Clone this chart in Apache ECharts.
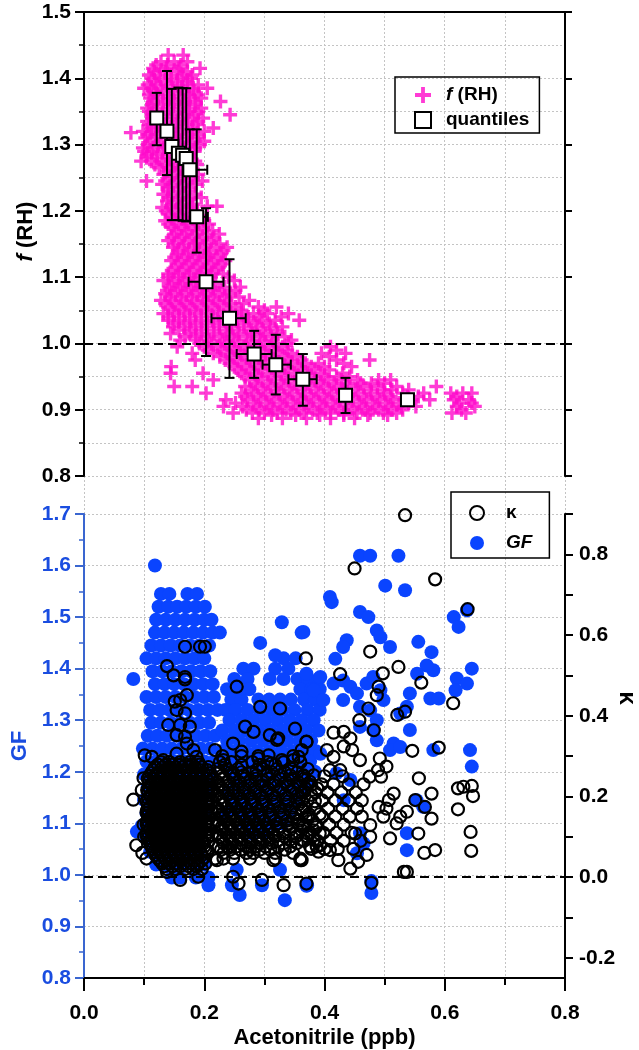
<!DOCTYPE html>
<html><head><meta charset="utf-8">
<script src="https://cdn.jsdelivr.net/npm/echarts@6/dist/echarts.min.js"></script>
<style>html,body{margin:0;padding:0;background:#fff;overflow:hidden}#c{width:639px;height:1050px}</style>
</head><body><div id="c"></div>
<script>
// ---------- DATA ----------
// f(RH) cloud, rows: [f(RH), acetonitrile values...]
const rhRows = [
[1.435,0.140,0.165],
[1.425,0.128,0.150,0.172],
[1.415,0.115,0.137,0.158,0.193],
[1.405,0.108,0.125,0.145,0.165,0.180],
[1.395,0.118,0.135,0.155,0.172],
[1.385,0.100,0.112,0.128,0.148,0.163,0.182,0.205],
[1.375,0.108,0.122,0.140,0.157,0.175,0.190],
[1.365,0.115,0.132,0.150,0.168,0.185,0.227],
[1.355,0.105,0.122,0.140,0.158,0.175,0.195],
[1.345,0.112,0.130,0.148,0.166,0.184,0.243],
[1.335,0.105,0.120,0.138,0.155,0.172,0.190],
[1.325,0.112,0.128,0.146,0.164,0.180,0.215],
[1.318,0.078],
[1.315,0.105,0.120,0.137,0.154,0.172,0.190],
[1.305,0.110,0.128,0.145,0.162,0.180,0.200],
[1.295,0.098,0.115,0.133,0.150,0.168,0.185],
[1.285,0.105,0.122,0.140,0.158,0.176],
[1.275,0.095,0.112,0.130,0.148,0.166,0.185],
[1.265,0.125,0.142,0.160,0.178],
[1.255,0.132,0.150,0.168,0.190],
[1.245,0.104,0.135,0.155,0.172,0.197],
[1.235,0.140,0.158,0.176],
[1.225,0.132,0.148,0.165,0.185],
[1.215,0.138,0.155,0.172],
[1.207,0.205,0.221],
[1.205,0.130,0.145,0.162,0.180],
[1.195,0.140,0.158,0.175],
[1.185,0.135,0.150,0.168,0.185,0.200],
[1.175,0.145,0.162,0.180,0.198],
[1.165,0.150,0.168,0.186,0.205,0.225],
[1.155,0.140,0.158,0.175,0.192,0.212],
[1.145,0.148,0.165,0.183,0.200,0.220,0.238],
[1.135,0.155,0.172,0.190,0.208,0.228],
[1.125,0.145,0.162,0.180,0.198,0.216,0.235],
[1.115,0.152,0.170,0.188,0.206,0.224],
[1.105,0.140,0.158,0.176,0.195,0.213,0.232],
[1.095,0.132,0.150,0.168,0.186,0.205,0.250],
[1.085,0.142,0.160,0.178,0.196,0.215,0.234,0.260],
[1.075,0.135,0.152,0.170,0.188,0.206,0.225,0.244],
[1.065,0.128,0.145,0.163,0.181,0.199,0.218,0.237,0.275],
[1.055,0.140,0.158,0.176,0.195,0.213,0.232,0.252,0.290,0.320],
[1.045,0.132,0.150,0.168,0.186,0.205,0.224,0.243,0.262,0.282,0.305,0.340],
[1.035,0.140,0.158,0.176,0.195,0.214,0.234,0.254,0.274,0.296,0.318,0.358],
[1.025,0.148,0.166,0.185,0.205,0.225,0.246,0.266,0.288,0.310,0.330],
[1.015,0.144,0.175,0.195,0.216,0.238,0.258,0.280,0.302,0.322],
[1.005,0.160,0.186,0.208,0.230,0.250,0.272,0.294,0.314,0.345],
[0.995,0.155,0.200,0.222,0.244,0.266,0.288,0.308,0.330,0.410],
[0.985,0.180,0.215,0.238,0.260,0.282,0.302,0.324,0.346,0.395,0.435],
[0.975,0.185,0.235,0.255,0.276,0.296,0.318,0.340,0.362,0.420,0.475],
[0.965,0.145,0.250,0.270,0.290,0.312,0.334,0.356,0.378,0.400,0.445],
[0.955,0.144,0.198,0.262,0.284,0.306,0.328,0.350,0.372,0.394,0.430],
[0.945,0.215,0.275,0.296,0.318,0.340,0.362,0.384,0.406,0.428,0.455,0.490,0.510],
[0.935,0.150,0.180,0.268,0.288,0.310,0.332,0.354,0.376,0.398,0.420,0.442,0.465,0.488,0.520,0.586],
[0.925,0.203,0.262,0.282,0.302,0.324,0.346,0.368,0.390,0.412,0.434,0.456,0.478,0.500,0.530,0.565,0.610,0.630,0.645],
[0.915,0.236,0.272,0.294,0.316,0.338,0.360,0.382,0.404,0.426,0.448,0.470,0.492,0.514,0.545,0.575,0.615,0.640],
[0.905,0.232,0.264,0.286,0.308,0.330,0.352,0.374,0.396,0.418,0.440,0.462,0.484,0.506,0.528,0.552,0.620,0.650],
[0.895,0.248,0.280,0.300,0.322,0.344,0.366,0.388,0.410,0.432,0.454,0.476,0.498,0.520,0.612,0.635],
[0.887,0.290,0.330,0.370,0.410,0.450]
];
// denser interior of the f(RH) cloud
const rhRowsInner = [
[1.420,0.120,0.139,0.161],
[1.410,0.117,0.135,0.155,0.172],
[1.400,0.112,0.127,0.145,0.163,0.178],
[1.390,0.106,0.120,0.138,0.156,0.172,0.190],
[1.380,0.115,0.131,0.149,0.166,0.183],
[1.370,0.110,0.124,0.141,0.159,0.176,0.195],
[1.360,0.113,0.131,0.149,0.167,0.185],
[1.350,0.108,0.121,0.139,0.157,0.175,0.190],
[1.340,0.113,0.129,0.147,0.164,0.181,0.198],
[1.330,0.108,0.124,0.137,0.155,0.172,0.188],
[1.320,0.098,0.113,0.129,0.146,0.163,0.181,0.200],
[1.310,0.102,0.119,0.136,0.153,0.171,0.189],
[1.300,0.106,0.124,0.141,0.159,0.176,0.193],
[1.290,0.100,0.113,0.131,0.149,0.167,0.184],
[1.280,0.104,0.121,0.139,0.157,0.175],
[1.270,0.118,0.136,0.153,0.170,0.188],
[1.260,0.138,0.156,0.174],
[1.250,0.143,0.162,0.181],
[1.240,0.130,0.148,0.166,0.186],
[1.230,0.140,0.157,0.175],
[1.220,0.140,0.157,0.175,0.195],
[1.210,0.146,0.163,0.181],
[1.200,0.136,0.152,0.170,0.188],
[1.190,0.146,0.163,0.180,0.194],
[1.180,0.140,0.157,0.174,0.191,0.208],
[1.170,0.154,0.171,0.189,0.214],
[1.160,0.146,0.163,0.180,0.197,0.216],
[1.150,0.150,0.167,0.184,0.203,0.226],
[1.140,0.156,0.174,0.192,0.210,0.232],
[1.130,0.150,0.167,0.185,0.204,0.222],
[1.120,0.157,0.175,0.193,0.212,0.230],
[1.110,0.146,0.164,0.182,0.200,0.219],
[1.100,0.140,0.157,0.175,0.193,0.211,0.240],
[1.090,0.146,0.164,0.182,0.200,0.219],
[1.080,0.138,0.156,0.174,0.192,0.211,0.230,0.252],
[1.070,0.143,0.161,0.179,0.197,0.215,0.234,0.258],
[1.060,0.135,0.152,0.170,0.188,0.206,0.225,0.244,0.265],
[1.050,0.147,0.166,0.184,0.203,0.222,0.242,0.262,0.300],
[1.040,0.140,0.158,0.176,0.195,0.215,0.234,0.254,0.273,0.292,0.328],
[1.030,0.150,0.168,0.186,0.205,0.225,0.245,0.266,0.286,0.308],
[1.020,0.158,0.178,0.196,0.216,0.236,0.256,0.278,0.298,0.320],
[1.010,0.168,0.186,0.205,0.226,0.248,0.270,0.292,0.312,0.334],
[1.000,0.192,0.212,0.234,0.256,0.278,0.300,0.320,0.340],
[0.990,0.206,0.228,0.250,0.272,0.294,0.316,0.338,0.420],
[0.980,0.226,0.248,0.270,0.292,0.312,0.334,0.355,0.408],
[0.970,0.242,0.262,0.282,0.302,0.324,0.346,0.368,0.390,0.432],
[0.960,0.256,0.276,0.296,0.318,0.340,0.362,0.384,0.408],
[0.950,0.268,0.290,0.312,0.334,0.356,0.378,0.400,0.420,0.442],
[0.940,0.285,0.306,0.328,0.350,0.372,0.394,0.416,0.438,0.460,0.478,0.500],
[0.930,0.278,0.298,0.320,0.342,0.364,0.386,0.408,0.430,0.452,0.476,0.498,0.512,0.540],
[0.920,0.268,0.290,0.312,0.334,0.356,0.378,0.400,0.422,0.444,0.466,0.488,0.510,0.538,0.556,0.620],
[0.910,0.252,0.282,0.304,0.326,0.348,0.370,0.392,0.414,0.436,0.458,0.480,0.502,0.524,0.540,0.625,0.645],
[0.900,0.270,0.292,0.314,0.336,0.358,0.380,0.402,0.424,0.446,0.468,0.490,0.512,0.530,0.628],
[0.892,0.312,0.352,0.392,0.432,0.472,0.505]
];

// quantiles with error bars
const qX   = [0.121,0.138,0.146,0.157,0.164,0.170,0.176,0.1875,0.203,0.242,0.283,0.319,0.364,0.435,0.538];
const qY   = [1.340,1.320,1.297,1.287,1.284,1.279,1.262,1.191,1.093,1.038,0.984,0.968,0.946,0.922,0.915];
const qXlo = [0.121,0.132,0.140,0.151,0.158,0.164,0.168,0.176,0.174,0.212,0.254,0.297,0.340,0.435,0.538];
const qXhi = [0.121,0.144,0.152,0.163,0.170,0.176,0.205,0.206,0.232,0.269,0.312,0.344,0.387,0.435,0.538];
const qYlo = [1.299,1.254,1.186,1.186,1.185,1.184,1.185,1.137,0.981,0.948,0.948,0.923,0.906,0.895,0.908];
const qYhi = [1.378,1.411,1.384,1.386,1.385,1.385,1.323,1.323,1.204,1.127,1.019,1.013,0.984,0.948,0.922];

// GF cloud rows: [GF, acetonitrile values...]
const gfRows = [
[1.545,0.128,0.142,0.172,0.188],
[1.52,0.124,0.140,0.155,0.170,0.186,0.201],
[1.495,0.120,0.136,0.152,0.168,0.184,0.200,0.212],
[1.47,0.118,0.134,0.150,0.166,0.182,0.198,0.214,0.226],
[1.445,0.112,0.128,0.144,0.160,0.176,0.192,0.208],
[1.42,0.104,0.120,0.136,0.152,0.168,0.184,0.200],
[1.395,0.114,0.130,0.146,0.162,0.178,0.194,0.210],
[1.38,0.082],
[1.37,0.118,0.134,0.150,0.166,0.182,0.198,0.214],
[1.345,0.104,0.120,0.136,0.152,0.168,0.184,0.200,0.216],
[1.32,0.110,0.126,0.142,0.158,0.174,0.190,0.206,0.222],
[1.295,0.112,0.128,0.144,0.160,0.176,0.192,0.208],
[1.27,0.106,0.122,0.138,0.154,0.170,0.186,0.202,0.218],
[1.245,0.098,0.114,0.130,0.146,0.162,0.178,0.194,0.210],
[1.22,0.104,0.120,0.136,0.152,0.168,0.184,0.200,0.216],
[1.195,0.100,0.116,0.132,0.148,0.164,0.180,0.196,0.212],
[1.17,0.106,0.122,0.138,0.154,0.170,0.186,0.202],
[1.145,0.100,0.116,0.132,0.148,0.164,0.180,0.196],
[1.12,0.104,0.120,0.136,0.152,0.168,0.184,0.200],
[1.095,0.096,0.112,0.128,0.144,0.160,0.176,0.192],
[1.084,0.088],
[1.07,0.104,0.120,0.136,0.152,0.168,0.184],
[1.045,0.110,0.126,0.142,0.158,0.174,0.190],
[1.02,0.120,0.136,0.152,0.168,0.184,0.200],
[0.995,0.146,0.160,0.186,0.207],
[0.98,0.207],
[1.49,0.329],
[1.47,0.362],
[1.45,0.293],
[1.42,0.332,0.352],
[1.40,0.265,0.282,0.318,0.340],
[1.38,0.250,0.272,0.309,0.332,0.355,0.372,0.390],
[1.36,0.238,0.256,0.275,0.360,0.378,0.392],
[1.34,0.245,0.262,0.290,0.308,0.326,0.344,0.366,0.384],
[1.32,0.235,0.252,0.272,0.292,0.312,0.330,0.350,0.372,0.392],
[1.30,0.242,0.262,0.282,0.302,0.322,0.342,0.362,0.382],
[1.28,0.230,0.250,0.270,0.290,0.310,0.330,0.350,0.370,0.390],
[1.26,0.238,0.258,0.278,0.298,0.318,0.338,0.358,0.378],
[1.24,0.228,0.248,0.268,0.288,0.308,0.328,0.348,0.368,0.386],
[1.22,0.236,0.256,0.276,0.296,0.316,0.336,0.356,0.376],
[1.20,0.244,0.264,0.284,0.304,0.324,0.344,0.364,0.384],
[1.18,0.252,0.272,0.292,0.312,0.332,0.352,0.372],
[1.16,0.240,0.262,0.282,0.302,0.322,0.342,0.362],
[1.14,0.250,0.270,0.290,0.310,0.330,0.350],
[1.12,0.237,0.260,0.280,0.300,0.320,0.340],
[1.10,0.268,0.290,0.310,0.330],
[1.08,0.280,0.300],
[1.01,0.254,0.326],
[0.98,0.246,0.296,0.371],
[0.961,0.259],
[0.951,0.334]
];
// scattered GF points [acetonitrile, GF]
const gfScatter = [
[0.118,1.6],[0.459,1.619],[0.476,1.619],[0.523,1.619],[0.501,1.561],[0.534,1.552],[0.409,1.539],[0.412,1.529],
[0.459,1.51],[0.473,1.5],[0.487,1.474],[0.493,1.461],[0.437,1.455],[0.431,1.442],[0.365,1.471],[0.509,1.442],
[0.556,1.452],[0.578,1.432],[0.581,1.397],[0.570,1.406],[0.615,1.5],[0.623,1.481],[0.637,1.513],[0.645,1.4],
[0.620,1.381],[0.637,1.371],[0.618,1.358],[0.418,1.419],[0.370,1.39],[0.393,1.384],[0.382,1.358],[0.398,1.339],
[0.415,1.371],[0.431,1.377],[0.443,1.365],[0.431,1.339],[0.454,1.352],[0.470,1.371],[0.481,1.384],[0.493,1.358],
[0.498,1.339],[0.459,1.326],[0.476,1.319],[0.487,1.300],[0.481,1.281],[0.459,1.287],[0.542,1.352],[0.537,1.326],
[0.526,1.313],[0.542,1.281],[0.515,1.255],[0.509,1.242],[0.576,1.342],[0.590,1.342],[0.554,1.390],[0.642,1.242],
[0.645,1.210],[0.581,1.242],[0.537,1.081],[0.537,1.048],[0.478,0.988],[0.478,0.965],[0.370,0.979],[0.553,1.145],
[0.564,1.132],[0.370,1.261],[0.393,1.235],[0.420,1.197],[0.443,1.184],[0.432,1.145],[0.459,1.081],[0.465,1.061],
[0.454,1.042],[0.487,1.261],[0.526,1.248],[0.318,1.426]
];

// kappa cloud rows: [kappa, acetonitrile values...]
const kRows = [
[0.285,0.128,0.142,0.160,0.176,0.190],
[0.272,0.118,0.131,0.141,0.152,0.163,0.173,0.184,0.196],
[0.258,0.112,0.122,0.133,0.144,0.155,0.166,0.177,0.188,0.199,0.210],
[0.244,0.106,0.117,0.128,0.139,0.149,0.160,0.171,0.182,0.193,0.204,0.214],
[0.230,0.111,0.122,0.133,0.144,0.155,0.166,0.176,0.187,0.198,0.209],
[0.216,0.105,0.116,0.127,0.138,0.149,0.160,0.171,0.182,0.193,0.204,0.215],
[0.202,0.110,0.121,0.132,0.143,0.154,0.165,0.176,0.187,0.198,0.209],
[0.188,0.104,0.115,0.126,0.137,0.148,0.159,0.170,0.181,0.192,0.203,0.214],
[0.174,0.109,0.120,0.131,0.142,0.153,0.164,0.175,0.186,0.197,0.208],
[0.160,0.104,0.115,0.126,0.137,0.148,0.159,0.170,0.181,0.192,0.203,0.213],
[0.146,0.109,0.120,0.131,0.142,0.153,0.164,0.175,0.186,0.197,0.208],
[0.132,0.104,0.115,0.126,0.137,0.148,0.159,0.170,0.181,0.192,0.203,0.214],
[0.118,0.109,0.120,0.131,0.142,0.153,0.164,0.175,0.186,0.197,0.208],
[0.104,0.104,0.115,0.126,0.137,0.148,0.159,0.170,0.181,0.192,0.203,0.213],
[0.090,0.109,0.120,0.131,0.142,0.153,0.164,0.175,0.186,0.197,0.208],
[0.076,0.112,0.123,0.134,0.145,0.156,0.167,0.178,0.189,0.200],
[0.062,0.117,0.128,0.139,0.150,0.161,0.172,0.183,0.194,0.205],
[0.048,0.122,0.133,0.144,0.155,0.166,0.177,0.188,0.199],
[0.034,0.130,0.142,0.154,0.166,0.178,0.190,0.202],
[0.020,0.138,0.152,0.168,0.182,0.196],
[0.279,0.123,0.136,0.147,0.158,0.169,0.180,0.192],
[0.265,0.115,0.127,0.138,0.149,0.160,0.171,0.182,0.193,0.205],
[0.251,0.109,0.120,0.131,0.142,0.153,0.164,0.175,0.186,0.197,0.208],
[0.237,0.108,0.119,0.130,0.141,0.152,0.163,0.174,0.185,0.196,0.207],
[0.223,0.108,0.119,0.130,0.141,0.152,0.163,0.174,0.185,0.196,0.207],
[0.209,0.107,0.118,0.129,0.140,0.151,0.162,0.173,0.184,0.195,0.206],
[0.195,0.107,0.118,0.129,0.140,0.151,0.162,0.173,0.184,0.195,0.206],
[0.181,0.106,0.117,0.128,0.139,0.150,0.161,0.172,0.183,0.194,0.205],
[0.167,0.106,0.117,0.128,0.139,0.150,0.161,0.172,0.183,0.194,0.205],
[0.153,0.106,0.117,0.128,0.139,0.150,0.161,0.172,0.183,0.194,0.205],
[0.139,0.106,0.117,0.128,0.139,0.150,0.161,0.172,0.183,0.194,0.205],
[0.125,0.106,0.117,0.128,0.139,0.150,0.161,0.172,0.183,0.194,0.205],
[0.111,0.106,0.117,0.128,0.139,0.150,0.161,0.172,0.183,0.194,0.205],
[0.097,0.106,0.117,0.128,0.139,0.150,0.161,0.172,0.183,0.194,0.205],
[0.083,0.110,0.121,0.132,0.143,0.154,0.165,0.176,0.187,0.198],
[0.069,0.114,0.125,0.136,0.147,0.158,0.169,0.180,0.191,0.202],
[0.055,0.119,0.130,0.141,0.152,0.163,0.174,0.185,0.196],
[0.041,0.126,0.137,0.148,0.160,0.172,0.184,0.196],
[0.027,0.134,0.147,0.160,0.174,0.188],
[0.300,0.230,0.262,0.290,0.348],
[0.285,0.226,0.245,0.280,0.305,0.332,0.360],
[0.268,0.222,0.238,0.256,0.298,0.321,0.345,0.372],
[0.252,0.230,0.248,0.266,0.287,0.304,0.326,0.343,0.365,0.382],
[0.236,0.222,0.240,0.258,0.276,0.296,0.316,0.336,0.356,0.376],
[0.220,0.230,0.248,0.266,0.285,0.306,0.327,0.348,0.368,0.388],
[0.204,0.222,0.240,0.257,0.275,0.294,0.314,0.335,0.356,0.378],
[0.188,0.230,0.247,0.264,0.282,0.300,0.320,0.340,0.362,0.384],
[0.172,0.222,0.238,0.254,0.270,0.288,0.306,0.326,0.346,0.368],
[0.156,0.229,0.245,0.261,0.277,0.294,0.312,0.332,0.352,0.374,0.392],
[0.140,0.222,0.237,0.252,0.268,0.284,0.300,0.318,0.338,0.358,0.380],
[0.124,0.229,0.244,0.259,0.275,0.291,0.307,0.324,0.344,0.365,0.386],
[0.108,0.222,0.237,0.252,0.267,0.283,0.299,0.315,0.332,0.352,0.372,0.392],
[0.092,0.230,0.245,0.260,0.276,0.292,0.308,0.324,0.342,0.362,0.382],
[0.076,0.224,0.239,0.254,0.270,0.286,0.302,0.323,0.343,0.376,0.387],
[0.060,0.232,0.250,0.270,0.282,0.300,0.318,0.348],
[0.046,0.218,0.232,0.248,0.276,0.318,0.360],
[0.042,0.221,0.315,0.362],
[0.278,0.234,0.262,0.292,0.318],
[0.260,0.226,0.244,0.262,0.280,0.312,0.334,0.355],
[0.244,0.230,0.249,0.267,0.286,0.306,0.326,0.346,0.366],
[0.228,0.224,0.240,0.257,0.276,0.296,0.316,0.338,0.358,0.378],
[0.212,0.231,0.249,0.266,0.285,0.304,0.324,0.346,0.367],
[0.196,0.226,0.243,0.260,0.278,0.296,0.316,0.336,0.358],
[0.180,0.230,0.246,0.262,0.279,0.297,0.316,0.336,0.357],
[0.164,0.225,0.241,0.257,0.273,0.290,0.308,0.326,0.344,0.364],
[0.148,0.230,0.245,0.260,0.276,0.292,0.309,0.328,0.348,0.369],
[0.132,0.225,0.240,0.255,0.271,0.287,0.303,0.320,0.338,0.356],
[0.116,0.230,0.245,0.260,0.275,0.291,0.307,0.323,0.342,0.362,0.382],
[0.100,0.226,0.241,0.256,0.272,0.288,0.304,0.318,0.334,0.352,0.372],
[0.084,0.232,0.247,0.262,0.278,0.294,0.312,0.332,0.354],
[0.068,0.228,0.243,0.260,0.276,0.292,0.310,0.334],
[0.25,0.365,0.400,0.430],
[0.23,0.372,0.395,0.415,0.440,0.465],
[0.21,0.362,0.385,0.405,0.428,0.452],
[0.19,0.372,0.396,0.418,0.440,0.462],
[0.17,0.362,0.384,0.406,0.430],
[0.15,0.374,0.396,0.418,0.442,0.462],
[0.13,0.364,0.386,0.408,0.432],
[0.11,0.376,0.398,0.420,0.445],
[0.09,0.366,0.388,0.410,0.432,0.460],
[0.07,0.378,0.400,0.422,0.448]
];
// scattered kappa points [acetonitrile, kappa]
const kScatter = [
[0.534,0.897],[0.450,0.765],[0.584,0.738],[0.638,0.664],[0.476,0.559],[0.369,0.542],[0.426,0.503],[0.523,0.521],
[0.497,0.505],[0.561,0.482],[0.490,0.472],[0.487,0.451],[0.614,0.431],[0.473,0.418],[0.458,0.389],[0.521,0.402],
[0.534,0.410],[0.482,0.364],[0.415,0.358],[0.432,0.360],[0.443,0.344],[0.370,0.336],[0.404,0.315],[0.415,0.298],
[0.432,0.324],[0.446,0.315],[0.492,0.294],[0.503,0.274],[0.489,0.265],[0.546,0.313],[0.590,0.321],[0.459,0.290],
[0.409,0.265],[0.426,0.265],[0.475,0.249],[0.494,0.249],[0.557,0.245],[0.578,0.207],[0.622,0.220],[0.631,0.224],
[0.645,0.226],[0.647,0.201],[0.622,0.168],[0.643,0.112],[0.644,0.065],[0.515,0.207],[0.507,0.191],[0.551,0.191],
[0.567,0.174],[0.578,0.145],[0.537,0.162],[0.526,0.150],[0.520,0.133],[0.509,0.096],[0.556,0.108],[0.566,0.060],
[0.584,0.067],[0.532,0.013],[0.537,0.013],[0.478,-0.014],[0.370,-0.016],[0.476,0.129],[0.476,0.100],[0.490,0.174],
[0.498,0.150],[0.503,0.170],[0.454,0.170],[0.451,0.108],[0.470,0.055],[0.456,0.038],[0.443,0.021],[0.423,0.042],
[0.409,0.067],[0.393,0.079],[0.390,0.063],
[0.168,0.571],[0.193,0.571],[0.201,0.571],[0.138,0.523],[0.149,0.500],[0.168,0.496],[0.168,0.490],[0.254,0.472],
[0.293,0.422],[0.326,0.418],[0.151,0.435],[0.160,0.439],[0.171,0.451],[0.154,0.414],[0.168,0.406],[0.140,0.377],
[0.160,0.377],[0.176,0.373],[0.154,0.352],[0.168,0.348],[0.268,0.373],[0.282,0.360],[0.309,0.352],[0.323,0.344],
[0.321,0.340],[0.351,0.368],[0.248,0.331],[0.262,0.311],[0.218,0.315],[0.370,0.335],[0.362,0.315],[0.357,0.298],
[0.348,0.290],[0.171,0.331],[0.182,0.315],[0.101,0.302],[0.113,0.298],[0.290,0.294],[0.307,0.302],[0.312,0.282],
[0.329,0.290],[0.287,0.265],[0.132,0.290],[0.154,0.306],[0.187,0.298],[0.207,0.273],[0.232,0.290],[0.143,0.265],
[0.082,0.192],[0.087,0.079],[0.104,0.046],[0.138,0.013],[0.160,-0.007],[0.190,0.001],[0.248,0.001],[0.257,-0.016],
[0.296,-0.007],[0.332,-0.020],[0.360,0.042],[0.099,0.245],[0.096,0.216],[0.105,0.166],[0.099,0.130],[0.100,0.100],
[0.097,0.060]
];

const xTicks = [0.0,0.2,0.4,0.6,0.8];
const kTickVals = [-0.2,-0.1,0,0.1,0.2,0.3,0.4,0.5,0.6,0.7,0.8,0.9];
const kLabelVals = [-0.2,0,0.2,0.4,0.6,0.8];

// ---------- BUILD ----------
const rowsToPts = rows => rows.flatMap(r => r.slice(1).map(x => [x, r[0]]));
const rhData = rowsToPts(rhRows).concat(rowsToPts(rhRowsInner));
const gfData = rowsToPts(gfRows).concat(gfScatter);
const kData = rowsToPts(kRows).concat(kScatter);
const qData = qX.map((x,i)=>[x,qY[i]]);
const errData = qX.map((x,i)=>[x,qY[i],qXlo[i],qXhi[i],qYlo[i],qYhi[i]]);

const FONT = '"Liberation Sans", Arial, Helvetica, sans-serif';
const PINK = '#ff0acb';
const BLUE = '#0a44ff';
const BLUE_TXT = '#1a4de0';
const BLUE_AX = '#3a66d0';
const GRIDC = '#c4c4c4';
const PLUS = 'path://M38,0H62V38H100V62H62V100H38V62H0V38H38Z';

const lab = (c)=>({fontFamily:FONT, fontWeight:'bold', fontSize:21, color:c});
const dotted = {show:true, lineStyle:{color:GRIDC, type:[2,2], width:1}};
const G0 = {left:84, top:12, width:481, height:464, containLabel:false, outerBoundsMode:'none'};
const G1 = {left:84, top:514, width:481, height:464, containLabel:false, outerBoundsMode:'none'};
const G2 = {left:84, top:476, width:481, height:38, containLabel:false, outerBoundsMode:'none'};

const chart = echarts.init(document.getElementById('c'), null, {renderer:'canvas'});
chart.setOption({
  animation:false,
  backgroundColor:'#fff',
  grid:[G0, G1, G2],
  legend:[{
    data:[{name:'f (RH)', icon:PLUS},{name:'quantiles', icon:'rect'}],
    orient:'vertical', left:395, top:77,
    padding:[8,10,3,19], itemGap:5, itemWidth:16, itemHeight:16,
    borderColor:'#000', borderWidth:1.5, selectedMode:false,
    textStyle:{fontFamily:FONT, fontWeight:'bold', fontSize:19, color:'#000', lineHeight:20, padding:[0,0,0,10],
      rich:{i:{fontFamily:FONT, fontWeight:'bold', fontStyle:'italic', fontSize:19, color:'#000'}}},
    formatter: n => n==='f (RH)' ? '{i|f} (RH)' : n
  },{
    data:[{name:'κ', icon:'circle'},{name:'GF', icon:'circle'}],
    orient:'vertical', left:451, top:492,
    padding:[11,17,5,18], itemGap:10, itemWidth:14, itemHeight:14,
    borderColor:'#000', borderWidth:1.5, selectedMode:false,
    textStyle:{fontFamily:FONT, fontWeight:'bold', fontSize:19, color:'#000', lineHeight:20, padding:[0,0,0,17],
      rich:{i:{fontFamily:FONT, fontWeight:'bold', fontStyle:'italic', fontSize:19, color:'#000'}}},
    formatter: n => n==='GF' ? '{i|GF}' : n
  }],
  xAxis:[
    {gridIndex:0, type:'value', min:0, max:0.8, interval:0.1,
     axisLine:{show:false}, axisTick:{show:false}, axisLabel:{show:false}, splitLine:dotted},
    {gridIndex:0, type:'value', position:'top', min:0, max:0.8, interval:0.1,
     axisLine:{show:true, onZero:false, lineStyle:{color:'#000', width:2}}, axisTick:{show:false}, axisLabel:{show:false}, splitLine:{show:false}},
    {gridIndex:1, type:'value', min:0, max:0.8, interval:0.2,
     name:'Acetonitrile (ppb)', nameLocation:'middle', nameGap:49, nameMoveOverlap:false,
     nameTextStyle:{fontFamily:FONT, fontWeight:'bold', fontSize:22, color:'#000'},
     axisLine:{show:true, onZero:false, lineStyle:{color:'#000', width:2}},
     axisTick:{show:true, inside:false, length:13, lineStyle:{color:'#000', width:2}},
     minorTick:{show:true, splitNumber:2, length:7, lineStyle:{color:'#000', width:2}},
     axisLabel:Object.assign(lab('#000'), {margin:25, customValues:xTicks, formatter:v=>v.toFixed(1)}),
     splitLine:dotted, minorSplitLine:dotted},
    {gridIndex:2, type:'value', min:0, max:0.8, interval:0.1,
     axisLine:{show:false}, axisTick:{show:false}, axisLabel:{show:false}, splitLine:dotted}
  ],
  yAxis:[
    {gridIndex:0, type:'value', min:0.8, max:1.5, interval:0.1,
     name:'{i|f} (RH)', nameLocation:'middle', nameGap:47, nameRotate:90, nameMoveOverlap:false,
     nameTextStyle:{fontFamily:FONT, fontWeight:'bold', fontSize:22, color:'#000', padding:[0,0,0,25],
       rich:{i:{fontFamily:FONT, fontWeight:'bold', fontStyle:'italic', fontSize:22, color:'#000'}}},
     axisLine:{show:true, onZero:false, lineStyle:{color:'#000', width:2}},
     axisTick:{show:true, length:9, lineStyle:{color:'#000', width:2}},
     minorTick:{show:true, splitNumber:2, length:5, lineStyle:{color:'#000', width:1.5}},
     axisLabel:Object.assign(lab('#000'), {margin:13, formatter:v=>v.toFixed(1)}),
     splitLine:dotted, minorSplitLine:dotted},
    {gridIndex:0, type:'value', position:'right', min:0.8, max:1.5, interval:0.1,
     axisLine:{show:true, onZero:false, lineStyle:{color:'#000', width:2}},
     axisTick:{show:true, length:7, lineStyle:{color:'#000', width:2}},
     axisLabel:{show:false}, splitLine:{show:false}},
    {gridIndex:1, type:'value', min:0.8, max:1.7, interval:0.1,
     name:'GF', nameLocation:'middle', nameGap:53, nameRotate:90, nameMoveOverlap:false,
     nameTextStyle:{fontFamily:FONT, fontWeight:'bold', fontSize:22, color:BLUE_TXT},
     axisLine:{show:true, onZero:false, lineStyle:{color:BLUE_AX, width:2}},
     axisTick:{show:true, length:9, lineStyle:{color:BLUE_AX, width:2}},
     minorTick:{show:true, splitNumber:2, length:5, lineStyle:{color:BLUE_AX, width:1.5}},
     axisLabel:Object.assign(lab(BLUE_TXT), {margin:13, formatter:v=>v.toFixed(1)}),
     splitLine:dotted},
    {gridIndex:1, type:'value', position:'right', min:-0.25, max:0.9,
     name:'κ', nameLocation:'middle', nameGap:50, nameRotate:-90, nameMoveOverlap:false,
     nameTextStyle:{fontFamily:FONT, fontWeight:'bold', fontSize:24, color:'#000', padding:[0,96,0,0]},
     axisLine:{show:true, onZero:false, lineStyle:{color:'#000', width:2}},
     axisTick:{show:true, length:8, customValues:kTickVals, lineStyle:{color:'#000', width:2}},
     axisLabel:Object.assign(lab('#000'), {margin:14, customValues:kLabelVals, formatter:v=>v.toFixed(1)}),
     splitLine:{show:false}},
    {gridIndex:2, type:'value', min:0, max:1, show:false}
  ],
  series:[
    {name:'f (RH)', type:'scatter', xAxisIndex:0, yAxisIndex:0, z:2,
     symbol:PLUS, symbolSize:14, itemStyle:{color:PINK}, data:rhData},
    {name:'qerr', type:'custom', xAxisIndex:0, yAxisIndex:0, z:3, data:errData,
     encode:{x:0, y:1},
     renderItem:function(params, api){
       const x=api.value(0), y=api.value(1);
       const c=api.coord([x,y]);
       const lo=api.coord([x,api.value(4)]), hi=api.coord([x,api.value(5)]);
       const xl=api.coord([api.value(2),y]), xh=api.coord([api.value(3),y]);
       const st={stroke:'#000', lineWidth:2};
       const cap=5;
       const ch=[];
       if (Math.abs(lo[1]-hi[1])>1){
         ch.push({type:'line', shape:{x1:c[0],y1:lo[1],x2:c[0],y2:hi[1]}, style:st});
         ch.push({type:'line', shape:{x1:c[0]-cap,y1:lo[1],x2:c[0]+cap,y2:lo[1]}, style:st});
         ch.push({type:'line', shape:{x1:c[0]-cap,y1:hi[1],x2:c[0]+cap,y2:hi[1]}, style:st});
       }
       if (xh[0]-xl[0]>1){
         ch.push({type:'line', shape:{x1:xl[0],y1:c[1],x2:xh[0],y2:c[1]}, style:st});
         ch.push({type:'line', shape:{x1:xl[0],y1:c[1]-cap,x2:xl[0],y2:c[1]+cap}, style:st});
         ch.push({type:'line', shape:{x1:xh[0],y1:c[1]-cap,x2:xh[0],y2:c[1]+cap}, style:st});
       }
       return {type:'group', children:ch};
     }},
    {name:'quantiles', type:'scatter', xAxisIndex:0, yAxisIndex:0, z:4,
     symbol:'rect', symbolSize:13, itemStyle:{color:'#ffffff', borderColor:'#000', borderWidth:2, opacity:1}, data:qData,
     markLine:{silent:true, symbol:'none', label:{show:false}, lineStyle:{color:'#000', type:[9,5], width:2},
       data:[{yAxis:1.0}]}},
    {name:'GF', type:'scatter', xAxisIndex:2, yAxisIndex:2, z:2,
     symbol:'circle', symbolSize:14, itemStyle:{color:BLUE, opacity:1}, data:gfData},
    {name:'κ', type:'scatter', xAxisIndex:2, yAxisIndex:3, z:3,
     symbol:'circle', symbolSize:12, itemStyle:{color:'rgba(0,0,0,0)', borderColor:'#000', borderWidth:2.2, opacity:1}, data:kData,
     markLine:{silent:true, symbol:'none', label:{show:false}, lineStyle:{color:'#000', type:[9,5], width:2},
       data:[{yAxis:0}]}}
  ]
});
</script>
</body></html>
